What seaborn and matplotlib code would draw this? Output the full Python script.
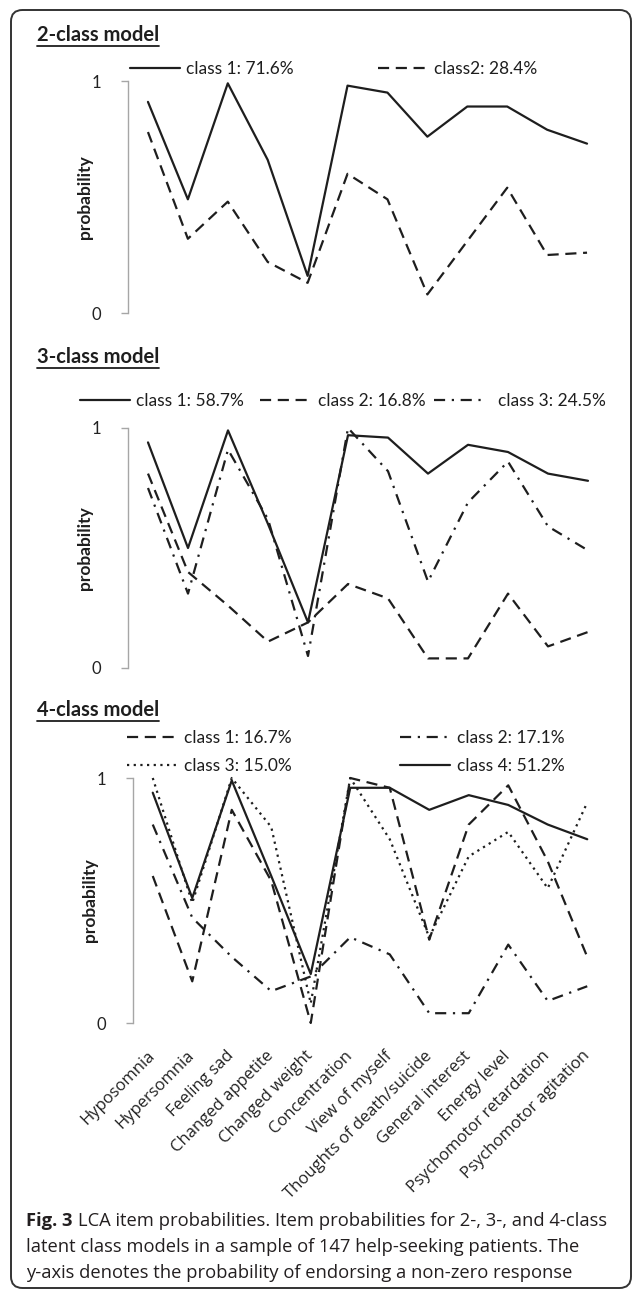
import numpy as np
import pandas as pd
import matplotlib
matplotlib.use('Agg')
import matplotlib.pyplot as plt
import seaborn as sns
from matplotlib.patches import FancyBboxPatch
from matplotlib.lines import Line2D

# symptom items (x axis)
items = ['Hyposomnia', 'Hypersomnia', 'Feeling sad', 'Changed appetite',
         'Changed weight', 'Concentration', 'View of myself',
         'Thoughts of death/suicide', 'General interest', 'Energy level',
         'Psychomotor retardation', 'Psychomotor agitation']

# 2-class model
m2_labels = ['class 1: 71.6%', 'class2: 28.4%']
m2_c1 = [0.91, 0.49, 0.99, 0.66, 0.16, 0.98, 0.95, 0.76, 0.89, 0.89, 0.79, 0.73]
m2_c2 = [0.78, 0.32, 0.48, 0.22, 0.13, 0.60, 0.49, 0.08, 0.31, 0.54, 0.25, 0.26]

# 3-class model
m3_labels = ['class 1: 58.7%', 'class 2: 16.8%', 'class 3: 24.5%']
m3_c1 = [0.94, 0.50, 0.99, 0.60, 0.19, 0.97, 0.96, 0.81, 0.93, 0.90, 0.81, 0.78]
m3_c2 = [0.81, 0.40, 0.26, 0.11, 0.19, 0.35, 0.29, 0.04, 0.04, 0.31, 0.09, 0.15]
m3_c3 = [0.75, 0.31, 0.91, 0.62, 0.05, 1.00, 0.82, 0.36, 0.69, 0.86, 0.59, 0.49]

# 4-class model
m4_labels = ['class 1: 16.7%', 'class 2: 17.1%', 'class 3: 15.0%', 'class 4: 51.2%']
m4_c1 = [0.60, 0.17, 0.87, 0.58, 0.00, 1.00, 0.96, 0.34, 0.81, 0.97, 0.66, 0.27]
m4_c2 = [0.81, 0.43, 0.27, 0.13, 0.19, 0.35, 0.28, 0.04, 0.04, 0.32, 0.09, 0.15]
m4_c3 = [1.00, 0.49, 1.00, 0.80, 0.08, 1.00, 0.75, 0.35, 0.68, 0.78, 0.55, 0.90]
m4_c4 = [0.94, 0.51, 0.99, 0.60, 0.20, 0.96, 0.96, 0.87, 0.93, 0.89, 0.81, 0.75]

SOLID = ''
DASH = (5, 3)
DASHDOT = (5, 3, 1, 3)
DOT = (1, 2)

sns.set_theme(style='white')
plt.rcParams['font.family'] = ['Lato', 'DejaVu Sans']

W, H = 636, 1292
fig = plt.figure(figsize=(W / 100, H / 100), dpi=100)
ink = '#1e1e1e'
LEG_FS = 12.5


def px_axes(left, top, right, bottom):
    return fig.add_axes([left / W, 1 - bottom / H, (right - left) / W, (bottom - top) / H])


def fx(x):
    return x / W


def fy(y):
    return 1 - y / H


def draw_panel(ax, series, labels, dash_list, last=False):
    rows = []
    for lab, vals in zip(labels, series):
        for i, v in enumerate(vals):
            rows.append({'pos': i, 'prob': v, 'cls': lab})
    df = pd.DataFrame(rows)
    sns.lineplot(data=df, x='pos', y='prob', style='cls', style_order=labels,
                 dashes=dict(zip(labels, dash_list)), color=ink, linewidth=1.6,
                 sort=False, errorbar=None, legend=False, ax=ax)
    for ln in ax.get_lines():
        ln.set_clip_on(False)
    ax.set_xlim(-0.5, len(items) - 0.5)
    ax.set_ylim(0, 1)
    ax.set_yticks([0, 1])
    ax.set_yticklabels(['0', '1'], fontsize=12, color='#222222')
    ax.tick_params(axis='y', length=5, width=1, color='#a6a6a6', pad=14, left=True)
    for s in ['top', 'right', 'bottom']:
        ax.spines[s].set_visible(False)
    ax.spines['left'].set_color('#a6a6a6')
    ax.spines['left'].set_linewidth(1)
    ax.set_xlabel('')
    ax.set_ylabel('')
    ax.set_xticks(range(len(items)))
    if last:
        ax.set_xticklabels(items, rotation=45, ha='right', va='center',
                           rotation_mode='anchor', fontsize=12,
                           family=['Open Sans', 'DejaVu Sans'], color='#222222')
        ax.tick_params(axis='x', length=0, pad=22)
    else:
        ax.set_xticklabels([])
        ax.tick_params(axis='x', length=0)
    ax.text(-0.09, 0.5, 'probability', rotation=90, ha='center', va='center',
            transform=ax.transAxes, fontsize=12.5, fontweight='bold', color=ink)
    return ax.get_lines()


def add_title(text, x, y):
    t = fig.text(fx(x), fy(y), text, ha='left', va='center', fontsize=14.5,
                 fontweight='bold', color=ink)
    return t


def add_legend_entry(line, label, x, y, hl=2.9, pad=0.35):
    fig.legend(handles=[line], labels=[label], loc='center left',
               bbox_to_anchor=(fx(x), fy(y)), frameon=False, borderpad=0,
               borderaxespad=0, handlelength=hl, handletextpad=pad,
               fontsize=LEG_FS, labelcolor=ink)


# panel 1
ax1 = px_axes(128, 81, 607, 313)
l1 = draw_panel(ax1, [m2_c1, m2_c2], m2_labels, [SOLID, DASH])
add_legend_entry(l1[0], m2_labels[0], 130, 69)
add_legend_entry(l1[1], m2_labels[1], 378, 69)

# panel 2
ax2 = px_axes(128, 428, 608, 668)
l2 = draw_panel(ax2, [m3_c1, m3_c2, m3_c3], m3_labels, [SOLID, DASH, DASHDOT])
add_legend_entry(l2[0], m3_labels[0], 80, 401)
add_legend_entry(l2[1], m3_labels[1], 260, 401, pad=0.45)
add_legend_entry(l2[2], m3_labels[2], 434, 401, pad=0.8)

# panel 3
ax3 = px_axes(133, 778, 607, 1023)
l3 = draw_panel(ax3, [m4_c1, m4_c2, m4_c3, m4_c4], m4_labels,
                [DASH, DASHDOT, DOT, SOLID], last=True)
add_legend_entry(l3[0], m4_labels[0], 127, 738, pad=0.4)
add_legend_entry(l3[1], m4_labels[1], 400, 738, pad=0.4)
add_legend_entry(l3[2], m4_labels[2], 127, 766, pad=0.4)
add_legend_entry(l3[3], m4_labels[3], 400, 766, pad=0.4)

titles = [add_title('2-class model', 37, 35),
          add_title('3-class model', 37, 357),
          add_title('4-class model', 37, 710)]

# caption
cap_font = ['Open Sans', 'DejaVu Sans']
CAP_FS = 13.2
cap_col = '#231f20'
c0 = fig.text(fx(26), fy(1221), 'Fig. 3', ha='left', va='center', fontsize=CAP_FS,
              fontweight='bold', family=cap_font, color=cap_col)
fig.canvas.draw()
r = fig.canvas.get_renderer()
bb = c0.get_window_extent(r)
fig.text(bb.x1 / W + 5 / W, fy(1221),
         'LCA item probabilities. Item probabilities for 2-, 3-, and 4-class',
         ha='left', va='center', fontsize=CAP_FS, family=cap_font, color=cap_col)
fig.text(fx(26), fy(1247),
         'latent class models in a sample of 147 help-seeking patients. The',
         ha='left', va='center', fontsize=CAP_FS, family=cap_font, color=cap_col)
fig.text(fx(26), fy(1273),
         'y-axis denotes the probability of endorsing a non-zero response',
         ha='left', va='center', fontsize=CAP_FS, family=cap_font, color=cap_col)

# underline titles
for t in titles:
    b = t.get_window_extent(r)
    fig.add_artist(Line2D([b.x0 / W, b.x1 / W], [(b.y0 - 1) / H, (b.y0 - 1) / H],
                          color=ink, linewidth=1.3))

# border
fig.add_artist(FancyBboxPatch((fx(11), fy(1288)), (631 - 11) / W, (1288 - 10) / H,
                              boxstyle='round,pad=0,rounding_size=0.018',
                              transform=fig.transFigure, fill=False,
                              edgecolor='#333333', linewidth=1.4,
                              mutation_aspect=W / H))

fig.savefig('out.png', dpi=100)
